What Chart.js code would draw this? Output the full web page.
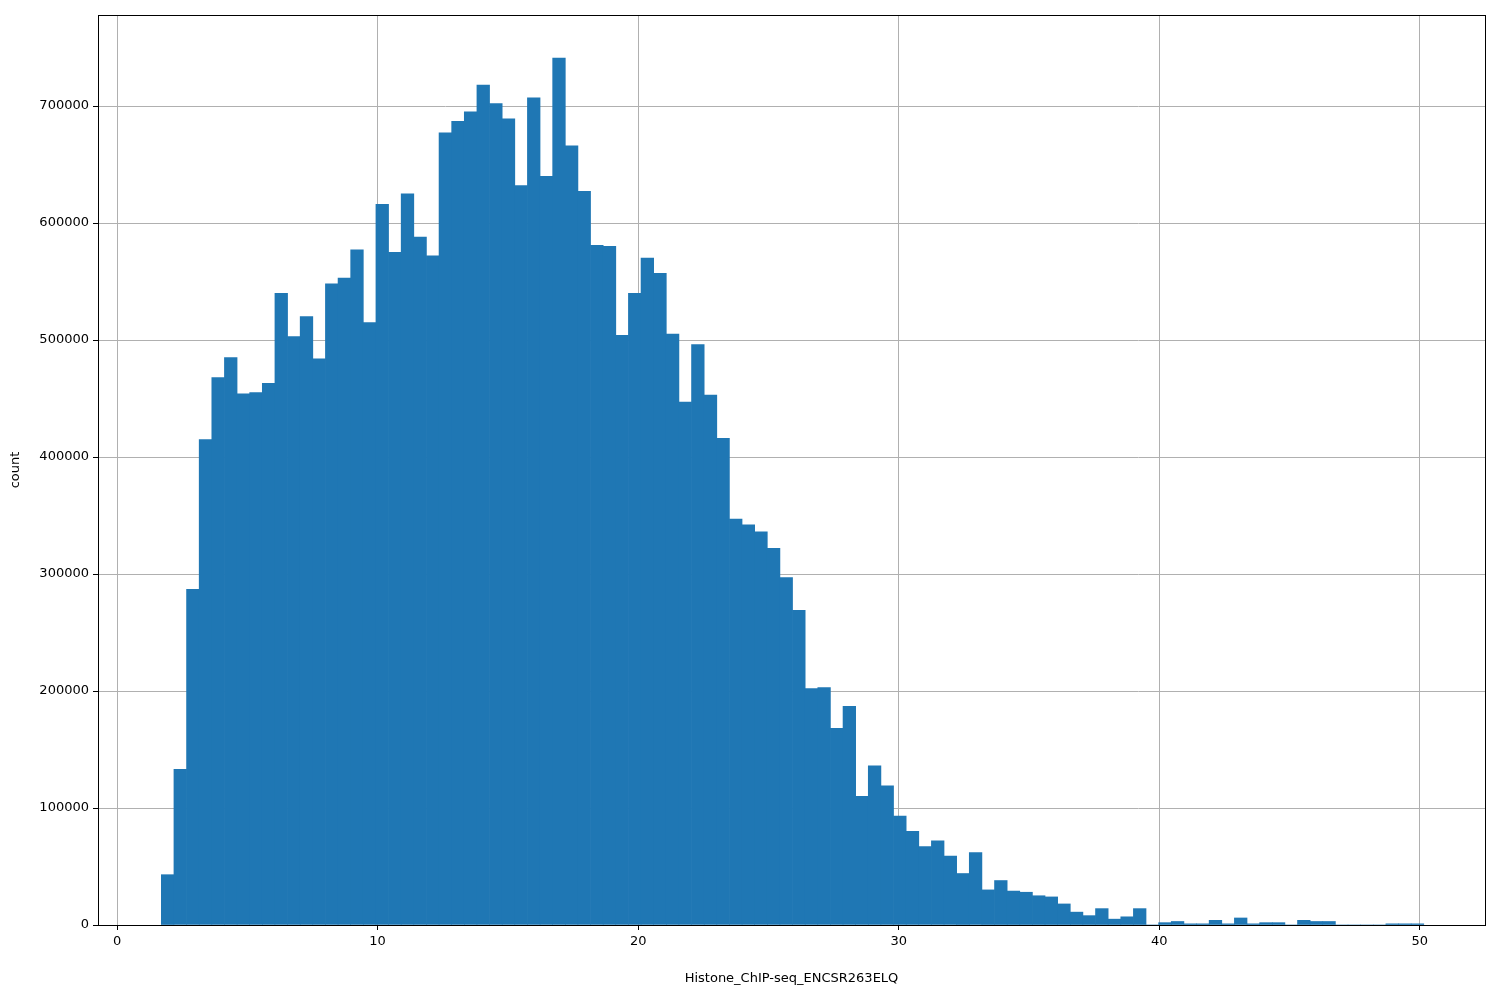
<!DOCTYPE html>
<html><head><meta charset="utf-8">
<script src="https://cdn.jsdelivr.net/npm/chart.js@4/dist/chart.umd.min.js"></script>
<style>html,body{margin:0;background:#fff}#w{width:1500px;height:1000px}</style>
</head><body><div id="w"><canvas id="c"></canvas></div>
<script>
const binStart = 1.7, binEnd = 50.15;
const counts = [43000,133000,287000,415000,468000,485000,454000,455000,463000,540000,
503000,520000,484000,548000,553000,577000,515000,616000,575000,625000,
588000,572000,677000,687000,695000,718000,702000,689000,632000,707000,
640000,741000,666000,627000,581000,580000,504000,540000,570000,557000,
505000,447000,496000,453000,416000,347000,342000,336000,322000,297000,
269000,202000,203000,168000,187000,110000,136000,119000,93000,80000,
67000,72000,59000,44000,62000,30000,38000,29000,28000,25000,
24000,18000,11000,8000,14000,5000,7000,14000,0,2000,
3000,1000,1000,4000,1000,6000,1000,2000,2000,0,
4000,3000,3000,0,0,0,0,1000,1000,1000];
const xTicks = [0,10,20,30,40,50];
const yTicks = [0,100000,200000,300000,400000,500000,600000,700000];
const w = (binEnd-binStart)/counts.length;
const pts = counts.map((v,i)=>({x: binStart + w*(i+0.5), y: v}));
const font = {family:'DejaVu Sans', size:13};
new Chart(document.getElementById('c'), {
  type:'bar',
  data:{datasets:[{data:pts, backgroundColor:'#1f77b4', barPercentage:1, categoryPercentage:1, borderWidth:0}]},
  options:{
    responsive:true, maintainAspectRatio:false, animation:false,
    layout:{padding:{top:15,right:15,left:0,bottom:0}},
    plugins:{legend:{display:false}, tooltip:{enabled:false}},
    scales:{
      x:{type:'linear', min:-0.73, max:52.5, z:1, offset:false, bounds:'data',
        afterBuildTicks:s=>{s.ticks=xTicks.map(v=>({value:v}));},
        ticks:{color:'#000', font, padding:4, maxRotation:0, callback:v=>String(v)},
        grid:{color:'#b0b0b0', lineWidth:1, tickLength:5, tickColor:'#000', offset:false},
        border:{color:'#000', width:1},
        title:{display:true, text:'Histone_ChIP-seq_ENCSR263ELQ', color:'#000', font, padding:{top:8,bottom:14}},
        afterFit:s=>{s.height=75;}},
      y:{min:0, max:777800, z:1,
        afterBuildTicks:s=>{s.ticks=yTicks.map(v=>({value:v}));},
        ticks:{color:'#000', font, padding:4, callback:v=>String(v)},
        grid:{color:'#b0b0b0', lineWidth:1, tickLength:5, tickColor:'#000'},
        border:{color:'#000', width:1},
        title:{display:true, text:'count', color:'#000', font, padding:{top:8,bottom:8}},
        afterFit:s=>{s.width=98;}}
    }
  },
  plugins:[{id:'frame', afterDraw(c){const a=c.chartArea,x=c.ctx;x.save();x.strokeStyle='#000';x.lineWidth=1;x.strokeRect(a.left+0.5,a.top+0.5,a.right-a.left,a.bottom-a.top);x.restore();}}]
});
</script></body></html>
